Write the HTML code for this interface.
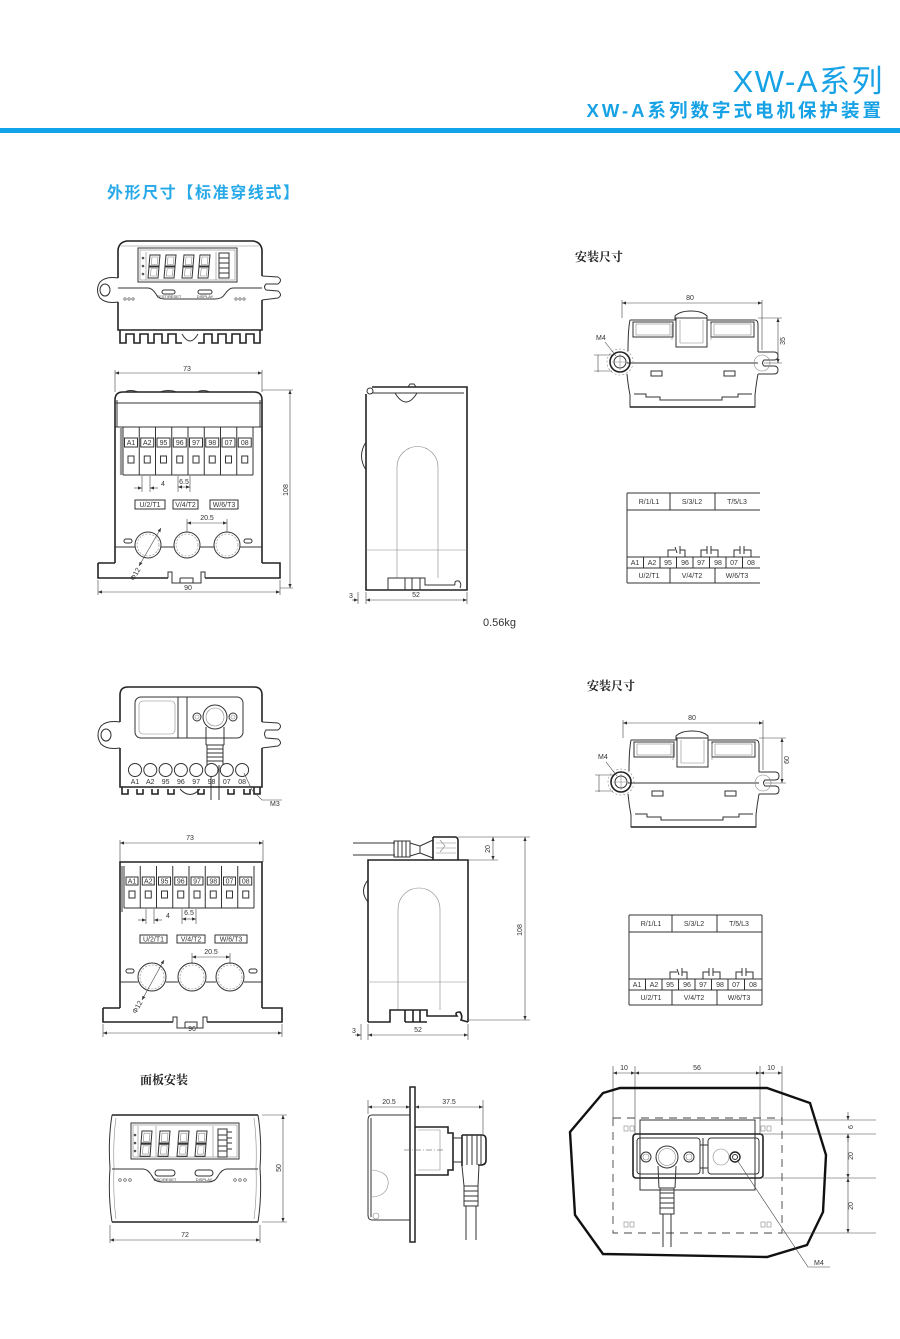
<!DOCTYPE html>
<html><head><meta charset="utf-8">
<style>
html,body{margin:0;padding:0;background:#fff;}
body{width:900px;height:1339px;overflow:hidden;position:relative;}
svg{position:absolute;left:0;top:0;}
.l{stroke:#333;fill:none;stroke-width:1;}
.h{stroke:#222;fill:none;stroke-width:1.6;}
.t{stroke:#888;fill:none;stroke-width:.6;}
.d{stroke:#444;fill:none;stroke-width:.6;}
.s{font-family:"Liberation Sans",sans-serif;font-size:7px;fill:#333;}
.xs{font-family:"Liberation Sans",sans-serif;font-size:4px;fill:#333;}
.cj{font-family:"Liberation Serif","Noto Serif CJK SC",serif;font-weight:bold;font-size:12px;fill:#222;}
</style></head><body>
<svg width="900" height="1339" viewBox="0 0 900 1339" xmlns="http://www.w3.org/2000/svg">
<defs>
<marker id="a" viewBox="0 0 10 10" refX="10" refY="5" markerUnits="userSpaceOnUse" markerWidth="5" markerHeight="4" orient="auto-start-reverse"><path d="M0,1 L10,5 L0,9z" fill="#333"/></marker>
<g id="dig"><path d="M1,0 L11,0 L10,11 L0,11 Z M0,12 L10,12 L9,23 L-1,23 Z" class="l" stroke-width=".8"/><path d="M3,2 L9,2 L8.3,9.5 L2.3,9.5Z M2.2,13.5 L8.2,13.5 L7.4,21 L1.4,21Z" class="t"/></g>
<g id="tv">
<path class="l" d="M630,320 L675,320 L675,316 Q680,311 691,311 Q702,311 707,316 L707,320 L755,320 Q758,320 758,325 L758,352 M758,374 Q756,385 755,395 L755,407 L630,407 L630,395 Q628,385 627,374 M628,351 Q628,330 630,320"/>
<rect class="l" x="633" y="322" width="40" height="15"/><rect class="t" x="636" y="324" width="34" height="11"/>
<rect class="l" x="711" y="322" width="43" height="15"/><rect class="t" x="714" y="324" width="37" height="11"/>
<rect class="l" x="676" y="318" width="31" height="29"/><path class="t" d="M680,320 L680,343 L703,343 L703,320 M672,324 L672,340 M711,324 L711,340"/>
<path class="l" d="M627,363 L758,363"/>
<rect class="l" x="651" y="371" width="11" height="5"/><rect class="l" x="724" y="371" width="11" height="5"/>
<path class="l" d="M634,394 L646,394 L646,397 L660,397 L660,400 L722,400 L722,397 L738,397 L738,394 L752,394"/>
<path class="h" d="M630,407 L755,407"/>
<circle class="h" cx="620" cy="362" r="10"/><circle class="l" cx="620" cy="362" r="6"/><circle class="t" cx="620" cy="362" r="13" stroke-dasharray="2 2"/>
<path class="t" d="M612,362 L628,362 M620,354 L620,370"/>
<path class="l" d="M758,352 L774,352 Q778,352 778,356 Q778,360 774,360 L764,360 Q761,363 764,366 L774,366 Q778,366 778,370 Q778,374 774,374 L758,374"/>
<circle class="t" cx="762" cy="363" r="8"/>
<path class="d" d="M605,342 L616,356"/>
<path class="d" d="M598,355 L598,372 M594,355 L612,355 M594,371 L612,371"/>
<path class="d" d="M622,300 L622,318 M762,300 L762,350"/>
<line class="d" x1="622" y1="303" x2="762" y2="303" marker-start="url(#a)" marker-end="url(#a)"/>
</g>
<g id="wt">
<path class="l" d="M627,493 L760,493 M627,510 L760,510 M627,493 L627,583 M627,557 L760,557 M627,568 L760,568 M627,583 L760,583 M670,493 L670,510 M715,493 L715,510 M670,568 L670,583 M715,568 L715,583"/>
<path class="l" d="M643.5,557 L643.5,568 M660,557 L660,568 M676.5,557 L676.5,568 M693,557 L693,568 M709.5,557 L709.5,568 M726,557 L726,568 M742.5,557 L742.5,568"/>
<path class="l" stroke-width=".8" d="M668,557 L668,550 L675,550 M680,550 L685,550 L685,557 M675,547 L677,553 M680,546 L680,554 M701,557 L701,550 L707,550 M707,546 L707,554 M711,546 L711,554 M711,550 L718,550 L718,557 M734,557 L734,550 L740,550 M740,546 L740,554 M744,546 L744,554 M744,550 L751,550 L751,557"/>
<g class="s" text-anchor="middle" font-size="6"><text x="649" y="504">R/1/L1</text><text x="692" y="504">S/3/L2</text><text x="737" y="504">T/5/L3</text>
<text x="635" y="565">A1</text><text x="652" y="565">A2</text><text x="668" y="565">95</text><text x="685" y="565">96</text><text x="701" y="565">97</text><text x="718" y="565">98</text><text x="734" y="565">07</text><text x="751" y="565">08</text>
<text x="649" y="578">U/2/T1</text><text x="692" y="578">V/4/T2</text><text x="737" y="578">W/6/T3</text></g>
</g>
</defs>

<!-- header -->
<text x="884" y="92" text-anchor="end" font-family="Liberation Sans,Noto Sans CJK SC,sans-serif" font-size="31" fill="#17a2e6" letter-spacing="1.5">XW-A系列</text>
<text x="884" y="117" text-anchor="end" font-family="Liberation Sans,Noto Sans CJK SC,sans-serif" font-size="18.5" font-weight="bold" fill="#17a2e6" letter-spacing="3">XW-A系列数字式电机保护装置</text>
<rect x="0" y="128" width="900" height="5" fill="#12a3ea"/>
<text x="107" y="198" font-family="Liberation Sans,Noto Sans CJK SC,sans-serif" font-size="16" font-weight="bold" fill="#27a9e9" letter-spacing="1.6">外形尺寸【标准穿线式】</text>

<!-- ===== top device 1 ===== -->
<path class="h" d="M118,278 L118,250 Q119,242 127,241 L253,241 Q261,242 262,250 L262,276 M262,300 L262,330 L118,330 L118,302"/>
<path class="t" d="M121,246 L259,246"/>
<path class="l" d="M118,278 Q106,276 100,282 Q95,290 100,298 Q106,304 118,302"/>
<ellipse class="l" cx="105" cy="290" rx="5" ry="6"/>
<path class="l" d="M262,276 L278,277 Q283,280 278,284 L266,284 Q263,287 266,290 L278,291 Q283,295 278,298 L262,300"/>
<rect class="l" x="138" y="248" width="99" height="34"/><rect class="t" x="140" y="250" width="95" height="30"/>
<use href="#dig" transform="translate(149,255)"/><use href="#dig" transform="translate(165,255)"/><use href="#dig" transform="translate(183,255)"/><use href="#dig" transform="translate(199,255)"/>
<path class="t" d="M146,252 L146,280 M216,252 L216,280"/>
<circle cx="143" cy="258" r="1.3" fill="#555"/><circle cx="143" cy="266" r="1.3" fill="#555"/><circle cx="143" cy="274" r="1.3" fill="#555"/>
<path class="l" stroke-width=".7" d="M219,253 L229,253 L229,278 L219,278 Z M219,258 L229,258 M219,263 L229,263 M219,268 L229,268 M219,273 L229,273"/>
<path class="l" d="M118,288 L148,288 Q152,288 156,294 Q158,299 165,299 L215,299 Q222,299 225,294 Q229,288 233,288 L262,288"/>
<rect class="l" x="162" y="290" width="13" height="4" rx="2"/><rect class="l" x="198" y="290" width="14" height="4" rx="2"/>
<text class="xs" x="169" y="298" text-anchor="middle">TEST/RESET</text><text class="xs" x="205" y="298" text-anchor="middle">DISPLAY</text>
<g fill="none" stroke="#444" stroke-width=".6"><circle cx="125" cy="299" r="1.2"/><circle cx="129" cy="299" r="1.2"/><circle cx="133" cy="299" r="1.2"/><circle cx="236" cy="299" r="1.2"/><circle cx="240" cy="299" r="1.2"/><circle cx="244" cy="299" r="1.2"/></g>
<path class="h" d="M120,330 L120,343 L126,343 L126,334 L134,334 L134,343 L140,343 L140,334 L148,334 L148,343 L154,343 L154,334 L162,334 L162,343 L168,343 L168,334 L176,334 L176,343 L182,343 M198,343 L204,343 L204,334 L212,334 L212,343 L218,343 L218,334 L226,334 L226,343 L232,343 L232,334 L240,334 L240,343 L246,343 L246,334 L254,334 L254,343 L260,343 L260,330"/>
<path class="l" d="M182,334 Q190,348 198,334"/>

<!-- ===== front view 1 ===== -->
<path class="d" d="M115,370 L115,392 M262,370 L262,392"/>
<line class="d" x1="115" y1="373" x2="262" y2="373" marker-start="url(#a)" marker-end="url(#a)"/>
<text class="s" x="187" y="371" text-anchor="middle">73</text>
<path class="h" d="M115,563 L115,400 Q115,392 123,392 L254,392 Q262,392 262,400 L262,563"/>
<path class="l" d="M125,392 Q130,389 138,392 M160,392 Q168,389 177,392 M197,392 Q203,389 210,392"/>
<path class="l" d="M115,403 L262,403 M117,400 L117,427 M260,400 L260,427"/>
<path class="l" d="M115,427 L262,427"/>
<path stroke="#999" stroke-width="2.2" d="M121,428 L121,475"/>
<g class="l" stroke-width=".8">
<path d="M123,427 L123,475 M139.25,427 L139.25,475 M155.5,427 L155.5,475 M171.75,427 L171.75,475 M188,427 L188,475 M204.25,427 L204.25,475 M220.5,427 L220.5,475 M236.75,427 L236.75,475 M253,427 L253,475 M123,475 L253,475"/>
<rect x="124.5" y="438" width="13" height="9"/><rect x="140.75" y="438" width="13" height="9"/><rect x="157" y="438" width="13" height="9"/><rect x="173.25" y="438" width="13" height="9"/><rect x="189.5" y="438" width="13" height="9"/><rect x="205.75" y="438" width="13" height="9"/><rect x="222" y="438" width="13" height="9"/><rect x="238.25" y="438" width="13" height="9"/>
<rect x="128" y="456" width="6" height="7"/><rect x="144.25" y="456" width="6" height="7"/><rect x="160.5" y="456" width="6" height="7"/><rect x="176.75" y="456" width="6" height="7"/><rect x="193" y="456" width="6" height="7"/><rect x="209.25" y="456" width="6" height="7"/><rect x="225.5" y="456" width="6" height="7"/><rect x="241.75" y="456" width="6" height="7"/>
</g>
<g class="s" text-anchor="middle" font-size="6"><text x="131" y="445">A1</text><text x="147.25" y="445">A2</text><text x="163.5" y="445">95</text><text x="179.75" y="445">96</text><text x="196" y="445">97</text><text x="212.25" y="445">98</text><text x="228.5" y="445">07</text><text x="244.75" y="445">08</text></g>
<path class="d" d="M142,476 L142,492 M150,476 L150,492 M178,476 L178,492 M190,476 L190,492"/>
<line class="d" x1="134" y1="488" x2="142" y2="488" marker-end="url(#a)"/><line class="d" x1="158" y1="488" x2="150" y2="488" marker-end="url(#a)"/>
<text class="s" x="161" y="486">4</text>
<line class="d" x1="178" y1="487" x2="190" y2="487" marker-start="url(#a)" marker-end="url(#a)"/>
<text class="s" x="184" y="484" text-anchor="middle">6.5</text>
<g class="l" stroke-width=".8"><rect x="135" y="500" width="30" height="9"/><rect x="173" y="500" width="25" height="9"/><rect x="210" y="500" width="28" height="9"/></g>
<g class="s" text-anchor="middle" font-size="6"><text x="150" y="507">U/2/T1</text><text x="185.5" y="507">V/4/T2</text><text x="224" y="507">W/6/T3</text></g>
<path class="d" d="M187,519 L187,532 M227,519 L227,532"/>
<line class="d" x1="187" y1="523" x2="227" y2="523" marker-start="url(#a)" marker-end="url(#a)"/>
<text class="s" x="207" y="520" text-anchor="middle">20.5</text>
<path class="l" d="M115,547 L135,547 M161,547 L174,547 M200,547 L214,547 M240,547 L262,547"/>
<circle class="l" cx="148" cy="545" r="13"/><circle class="t" cx="148" cy="545" r="11" stroke-dasharray="2 1.5"/>
<circle class="l" cx="187" cy="545" r="13"/><circle class="t" cx="187" cy="545" r="11" stroke-dasharray="2 1.5"/>
<circle class="l" cx="227" cy="545" r="13"/><circle class="t" cx="227" cy="545" r="11" stroke-dasharray="2 1.5"/>
<rect class="l" x="124" y="539" width="8" height="4" rx="2"/><rect class="l" x="244" y="539" width="8" height="4" rx="2"/>
<line class="d" x1="139" y1="566" x2="161" y2="528" marker-start="url(#a)" marker-end="url(#a)"/>
<text class="s" x="0" y="0" transform="translate(134,581) rotate(-60)">Φ12</text>
<path class="h" d="M98,563 L115,563 M262,563 L280,563 L280,578 L205,578 M168,578 L98,578 L98,563"/>
<path class="l" d="M168,578 L168,572 L172,572 L172,583 L201,583 L201,572 L205,572 L205,578 M180,578 L193,578 L193,583 M180,578 L180,583"/>
<path class="d" d="M98,580 L98,595 M280,580 L280,595"/>
<line class="d" x1="98" y1="592" x2="280" y2="592" marker-start="url(#a)" marker-end="url(#a)"/>
<text class="s" x="188" y="590" text-anchor="middle">90</text>
<path class="d" d="M262,390 L293,390 M280,588 L293,588"/>
<line class="d" x1="290" y1="390" x2="290" y2="588" marker-start="url(#a)" marker-end="url(#a)"/>
<text class="s" transform="translate(288,490) rotate(-90)" text-anchor="middle">108</text>

<!-- ===== side view 1 ===== -->
<path class="h" d="M372,387 L467,387 L467,590 L366,590 L366,394"/>
<circle class="l" cx="370" cy="391" r="3"/>
<path class="l" d="M372,393 L464,393 M408,387 L410,384 L414,384 L416,387"/>
<path class="l" d="M395,393 Q406,411 417,393"/>
<path class="l" d="M366,442 Q357,456 366,470"/>
<path class="t" stroke="#777" d="M397,578 L397,467 A20.5,20.5 0 0 1 438,467 L438,578"/>
<path class="t" stroke="#777" d="M366,550 L467,550"/>
<path class="l" fill="#fff" d="M388,590 L388,578 L405,578 L405,590 M405,578 L425,578 L425,585 L455,585 M412,578 L412,590 M420,578 L420,590 M455,585 Q454,580 459,581 Q462,584 460,588"/>
<path class="d" d="M358,592 L358,604 M366,592 L366,604 M467,592 L467,604"/>
<line class="d" x1="352" y1="600" x2="358" y2="600" marker-end="url(#a)"/>
<line class="d" x1="366" y1="600" x2="467" y2="600" marker-start="url(#a)" marker-end="url(#a)"/>
<text class="s" x="349" y="598">3</text><text class="s" x="416" y="597" text-anchor="middle">52</text>
<text x="483" y="626" font-family="Liberation Sans,sans-serif" font-size="11" fill="#333">0.56kg</text>

<!-- ===== right top ===== -->
<text class="cj" x="575" y="261">安装尺寸</text>
<use href="#tv"/>
<text class="s" x="690" y="300" text-anchor="middle">80</text>
<text class="s" x="596" y="340" font-size="6">M4</text>
<path class="d" d="M758,318 L782,318 M764,363 L782,363"/>
<line class="d" x1="778" y1="318" x2="778" y2="363" marker-start="url(#a)" marker-end="url(#a)"/>
<text class="s" transform="translate(785,341) rotate(-90)" text-anchor="middle">35</text>
<use href="#wt"/>

<!-- ===== top device 2 ===== -->
<path class="h" d="M120,722 L120,695 Q120,687 128,687 L254,687 Q262,687 262,695 L262,722 M262,748 L262,787 L120,787 L120,748"/>
<path class="l" d="M120,722 Q107,720 101,726 Q95,735 101,744 Q107,750 120,748"/>
<ellipse class="l" cx="106" cy="735" rx="5" ry="6"/>
<path class="l" d="M262,722 L278,723 Q283,726 278,730 L266,730 Q263,734 266,738 L278,739 Q283,743 278,746 L262,748"/>
<rect class="l" x="135" y="697" width="108" height="41" rx="6"/>
<rect class="t" x="139" y="701" width="36" height="33" rx="4"/>
<path class="l" d="M178,697 L178,738 M187,697 L187,738"/>
<circle class="l" cx="215" cy="717" r="12"/><circle class="t" cx="215" cy="717" r="9"/>
<circle class="l" cx="197" cy="717" r="4"/><circle class="t" cx="197" cy="717" r="2"/>
<circle class="l" cx="233" cy="717" r="4"/><circle class="t" cx="233" cy="717" r="2"/>
<path class="l" d="M206,727 L206,745 M224,727 L224,745"/>
<path class="l" d="M206,745 L224,745 M207,749 L223,749 M207,753 L223,753 M207,757 L223,757 M207,761 L223,761 M207,745 L207,765 M223,745 L223,765"/>
<path class="l" d="M211,765 L211,800 M219,765 L219,800"/>
<g class="l">
<circle cx="135" cy="770" r="6.5"/><circle cx="150.3" cy="770" r="6.5"/><circle cx="165.6" cy="770" r="6.5"/><circle cx="180.9" cy="770" r="6.5"/><circle cx="196.2" cy="770" r="6.5"/><circle cx="211.5" cy="770" r="6.5" fill="#fff"/><circle cx="226.8" cy="770" r="6.5"/><circle cx="242.1" cy="770" r="6.5"/></g>
<g class="s" text-anchor="middle"><text x="135" y="784">A1</text><text x="150.3" y="784">A2</text><text x="165.6" y="784">95</text><text x="180.9" y="784">96</text><text x="196.2" y="784">97</text><text x="211.5" y="784">98</text><text x="226.8" y="784">07</text><text x="242.1" y="784">08</text></g>
<path class="h" d="M122,787 L122,794 L128,794 L128,789 M137,789 L137,794 L143,794 L143,789 M152,789 L152,794 L158,794 L158,789 M168,789 L168,794 L174,794 L174,789 M198,789 L198,794 L204,794 L204,789 M228,789 L228,794 L234,794 L234,789 M244,789 L244,794 L250,794 L250,789 M254,787 L254,794 L260,794 L260,787"/>
<path class="l" d="M180,789 Q190,800 200,789"/>
<path class="d" d="M244,773 L252,790 L262,800 L282,800"/>
<text class="s" x="270" y="806" font-size="6">M3</text>

<!-- ===== front view 2 ===== -->
<path class="d" d="M120,840 L120,862 M263,840 L263,862"/>
<line class="d" x1="120" y1="843" x2="263" y2="843" marker-start="url(#a)" marker-end="url(#a)"/>
<text class="s" x="190" y="840" text-anchor="middle">73</text>
<path class="h" d="M120,1008 L120,862 L262,862 L262,1008"/>
<path stroke="#999" stroke-width="2" d="M122,866 L122,912"/>
<g class="l" stroke-width=".8">
<path d="M124,866 L124,908 M140.25,866 L140.25,908 M156.5,866 L156.5,908 M172.75,866 L172.75,908 M189,866 L189,908 M205.25,866 L205.25,908 M221.5,866 L221.5,908 M237.75,866 L237.75,908 M254,866 L254,908 M124,908 L254,908"/>
<rect x="126" y="877" width="12" height="8"/><rect x="142.25" y="877" width="12" height="8"/><rect x="158.5" y="877" width="12" height="8"/><rect x="174.75" y="877" width="12" height="8"/><rect x="191" y="877" width="12" height="8"/><rect x="207.25" y="877" width="12" height="8"/><rect x="223.5" y="877" width="12" height="8"/><rect x="239.75" y="877" width="12" height="8"/>
<rect x="129" y="891" width="6" height="7"/><rect x="145.25" y="891" width="6" height="7"/><rect x="161.5" y="891" width="6" height="7"/><rect x="177.75" y="891" width="6" height="7"/><rect x="194" y="891" width="6" height="7"/><rect x="210.25" y="891" width="6" height="7"/><rect x="226.5" y="891" width="6" height="7"/><rect x="242.75" y="891" width="6" height="7"/>
</g>
<g class="s" text-anchor="middle" font-size="6"><text x="132" y="883.5">A1</text><text x="148.25" y="883.5">A2</text><text x="164.5" y="883.5">95</text><text x="180.75" y="883.5">96</text><text x="197" y="883.5">97</text><text x="213.25" y="883.5">98</text><text x="229.5" y="883.5">07</text><text x="245.75" y="883.5">08</text></g>
<path class="d" d="M146,909 L146,924 M154,909 L154,924 M182,909 L182,924 M196,909 L196,924"/>
<line class="d" x1="138" y1="920" x2="146" y2="920" marker-end="url(#a)"/><line class="d" x1="162" y1="920" x2="154" y2="920" marker-end="url(#a)"/>
<text class="s" x="166" y="918">4</text>
<line class="d" x1="182" y1="919" x2="196" y2="919" marker-start="url(#a)" marker-end="url(#a)"/>
<text class="s" x="189" y="915" text-anchor="middle">6.5</text>
<g class="l" stroke-width=".8"><rect x="140" y="935" width="27" height="8"/><rect x="177" y="935" width="28" height="8"/><rect x="215" y="935" width="32" height="8"/></g>
<g class="s" text-anchor="middle" font-size="6"><text x="153.5" y="941.5">U/2/T1</text><text x="191" y="941.5">V/4/T2</text><text x="231" y="941.5">W/6/T3</text></g>
<path class="d" d="M192,953 L192,964 M230,953 L230,964"/>
<line class="d" x1="192" y1="957" x2="230" y2="957" marker-start="url(#a)" marker-end="url(#a)"/>
<text class="s" x="211" y="954" text-anchor="middle">20.5</text>
<path class="l" d="M120,982 L138,982 M166,982 L178,982 M206,982 L216,982 M244,982 L262,982"/>
<circle class="l" cx="152" cy="977" r="14"/><circle class="t" cx="152" cy="977" r="12" stroke-dasharray="2 1.5"/>
<circle class="l" cx="192" cy="977" r="14"/><circle class="t" cx="192" cy="977" r="12" stroke-dasharray="2 1.5"/>
<circle class="l" cx="230" cy="977" r="14"/><circle class="t" cx="230" cy="977" r="12" stroke-dasharray="2 1.5"/>
<rect class="l" x="126" y="969" width="8" height="4" rx="2"/><rect class="l" x="249" y="969" width="8" height="4" rx="2"/>
<line class="d" x1="142" y1="1000" x2="164" y2="960" marker-start="url(#a)" marker-end="url(#a)"/>
<text class="s" transform="translate(136,1014) rotate(-60)">Φ12</text>
<path class="h" d="M103,1008 L120,1008 M262,1008 L282,1008 L282,1022 L207,1022 M173,1022 L103,1022 L103,1008"/>
<path class="l" d="M173,1022 L173,1017 L177,1017 L177,1028 L203,1028 L203,1017 L207,1017 L207,1022 M185,1022 L197,1022 L197,1028 M185,1022 L185,1028"/>
<path class="d" d="M103,1024 L103,1037 M282,1024 L282,1037"/>
<line class="d" x1="103" y1="1033" x2="282" y2="1033" marker-start="url(#a)" marker-end="url(#a)"/>
<text class="s" x="192" y="1031" text-anchor="middle">96</text>

<!-- ===== side view 2 ===== -->
<path class="l" d="M353,843 L395,843 M353,855 L395,855"/>
<path class="l" d="M394,841 L410,841 L410,857 L394,857 Z M398,841 L398,857 M402,841 L402,857 M406,841 L406,857 M410,843 L420,846 L420,853 L410,856 M420,846 L433,840 M420,853 L433,858"/>
<path class="h" d="M433,837 L455,837 Q458,837 458,841 L458,860 M433,837 L433,860"/>
<path class="t" stroke="#555" d="M436,843 L456,843 M436,848 L456,848 M436,853 L456,853 M440,840 L445,846 L440,852"/>
<path class="h" d="M368,1022 L368,860 L468,860 L468,1022"/>
<path class="l" d="M368,880 Q359,891 368,902"/>
<path class="t" stroke="#777" d="M398,1010 L398,909 A21,21 0 0 1 440,909 L440,1010"/>
<path class="t" stroke="#777" d="M368,982 L468,982"/>
<path class="h" d="M368,1022 L390,1022 L390,1010 L405,1010 L405,1022 M405,1010 L427,1010 L427,1016 L457,1016 Q454,1012 460,1012 Q463,1016 461,1020 L468,1022 M427,1022 L405,1022 M413,1010 L413,1022 M420,1010 L420,1022"/>
<path class="d" d="M458,837 L530,837 M468,860 L498,860 M468,1020 L530,1020"/>
<line class="d" x1="493" y1="837" x2="493" y2="860" marker-start="url(#a)" marker-end="url(#a)"/>
<text class="s" transform="translate(490,849) rotate(-90)" text-anchor="middle">20</text>
<line class="d" x1="525" y1="837" x2="525" y2="1020" marker-start="url(#a)" marker-end="url(#a)"/>
<text class="s" transform="translate(522,930) rotate(-90)" text-anchor="middle">108</text>
<path class="d" d="M361,1024 L361,1040 M368,1024 L368,1040 M468,1024 L468,1040"/>
<line class="d" x1="355" y1="1035" x2="361" y2="1035" marker-end="url(#a)"/>
<line class="d" x1="368" y1="1035" x2="468" y2="1035" marker-start="url(#a)" marker-end="url(#a)"/>
<text class="s" x="352" y="1033">3</text><text class="s" x="418" y="1032" text-anchor="middle">52</text>

<!-- ===== right middle ===== -->
<text class="cj" x="587" y="690">安装尺寸</text>
<use href="#tv" transform="translate(1,420)"/>
<text class="s" x="692" y="720" text-anchor="middle">80</text>
<text class="s" x="598" y="759" font-size="6">M4</text>
<path class="d" d="M759,738 L786,738 M765,783 L786,783"/>
<line class="d" x1="782" y1="738" x2="782" y2="783" marker-start="url(#a)" marker-end="url(#a)"/>
<text class="s" transform="translate(789,760) rotate(-90)" text-anchor="middle">60</text>
<use href="#wt" transform="translate(2,422)"/>
<path class="l" d="M762,915 L762,1005"/>

<!-- ===== bottom left panel ===== -->
<text class="cj" x="140" y="1084">面板安装</text>
<path class="h" d="M112,1115 L258,1115 M112,1222 L258,1222"/>
<path class="l" d="M112,1115 Q108,1140 110,1168 Q108,1196 112,1222 M258,1115 Q262,1140 260,1168 Q262,1196 258,1222"/>
<path class="t" stroke="#666" d="M116,1118 Q113,1140 114,1168 Q113,1196 116,1219 M254,1118 Q257,1140 256,1168 Q257,1196 254,1219"/>
<rect class="l" x="131" y="1123" width="108" height="36"/><rect class="t" x="133" y="1125" width="104" height="32"/>
<use href="#dig" transform="translate(141,1131) scale(1,1.1)"/><use href="#dig" transform="translate(159,1131) scale(1,1.1)"/><use href="#dig" transform="translate(178,1131) scale(1,1.1)"/><use href="#dig" transform="translate(196,1131) scale(1,1.1)"/>
<path class="t" d="M138,1126 L138,1157 M156,1126 L156,1157 M213,1126 L213,1157"/>
<circle cx="135" cy="1135" r="1.3" fill="#555"/><circle cx="135" cy="1143" r="1.3" fill="#555"/><circle cx="135" cy="1151" r="1.3" fill="#555"/>
<path class="l" stroke-width=".7" d="M218,1129 L227,1129 L227,1157 L218,1157 Z M218,1135 L227,1135 M218,1140 L227,1140 M218,1146 L227,1146 M218,1151 L227,1151 M227,1132 L232,1132 M227,1138 L232,1138 M227,1143 L232,1143 M227,1149 L232,1149"/>
<path class="l" d="M112,1169 L143,1169 Q148,1169 152,1176 Q155,1182 162,1182 L208,1182 Q215,1182 218,1176 Q222,1169 227,1169 L258,1169"/>
<rect class="l" x="155" y="1170" width="20" height="6" rx="3"/><rect class="l" x="195" y="1170" width="18" height="6" rx="3"/>
<text class="xs" x="165" y="1181" text-anchor="middle">ESC/RESET</text><text class="xs" x="204" y="1181" text-anchor="middle">DISPLAY</text>
<g fill="none" stroke="#444" stroke-width=".6"><circle cx="120" cy="1180" r="1.3"/><circle cx="125" cy="1180" r="1.3"/><circle cx="130" cy="1180" r="1.3"/><circle cx="235" cy="1180" r="1.3"/><circle cx="240" cy="1180" r="1.3"/><circle cx="245" cy="1180" r="1.3"/></g>
<path class="d" d="M262,1115 L287,1115 M262,1222 L287,1222 M110,1225 L110,1243 M260,1225 L260,1243"/>
<line class="d" x1="283" y1="1115" x2="283" y2="1222" marker-start="url(#a)" marker-end="url(#a)"/>
<text class="s" transform="translate(281,1168) rotate(-90)" text-anchor="middle">50</text>
<line class="d" x1="110" y1="1240" x2="260" y2="1240" marker-start="url(#a)" marker-end="url(#a)"/>
<text class="s" x="185" y="1237" text-anchor="middle">72</text>

<!-- ===== bottom middle ===== -->
<rect x="410" y="1087" width="5" height="155" fill="#fff" stroke="#222" stroke-width="1.5"/>
<path class="l" d="M410,1115 L372,1115 Q368,1115 368,1120 L368,1215 Q368,1220 372,1220 L410,1220 M371,1118 L371,1217"/>
<path class="t" stroke="#666" d="M372,1170 Q390,1172 388,1185 Q386,1196 372,1197"/>
<circle class="t" cx="376" cy="1216" r="3"/>
<path class="h" d="M415,1127 L448,1127 L448,1133 L453,1133 L453,1170 L448,1170 L448,1175 L415,1175"/>
<path class="t" stroke="#666" d="M418,1130 L440,1130 L440,1170 L418,1170"/>
<path class="d" stroke-dasharray="6 2 1 2" d="M404,1150 L445,1150"/>
<path class="l" d="M453,1138 L462,1138 L462,1162 L453,1162"/>
<path class="h" d="M462,1135 L482,1135 Q486,1135 486,1140 L486,1160 Q486,1165 481,1165 L478,1165 M462,1135 L462,1166"/>
<path class="l" d="M467,1135 L467,1165 M472,1135 L472,1165 M477,1135 L477,1165 M481,1135 L481,1165"/>
<path class="l" d="M462,1166 L464,1186 M479,1165 L478,1186 M464,1186 L478,1186 M464,1191 L478,1191 M464,1196 L478,1196 M464,1201 L478,1201 M464,1186 L464,1206 L478,1206 L478,1186 M466,1206 L466,1240 M476,1206 L476,1240"/>
<path class="d" d="M368,1100 L368,1114 M483,1100 L483,1134"/>
<line class="d" x1="368" y1="1107" x2="410" y2="1107" marker-start="url(#a)" marker-end="url(#a)"/>
<line class="d" x1="415" y1="1107" x2="483" y2="1107" marker-start="url(#a)" marker-end="url(#a)"/>
<text class="s" x="389" y="1104" text-anchor="middle">20.5</text><text class="s" x="449" y="1104" text-anchor="middle">37.5</text>

<!-- ===== bottom right ===== -->
<path class="d" d="M613,1066 L613,1118 M635,1066 L635,1135 M760,1066 L760,1135 M782,1066 L782,1118"/>
<line class="d" x1="613" y1="1073" x2="635" y2="1073" marker-start="url(#a)" marker-end="url(#a)"/>
<line class="d" x1="635" y1="1073" x2="760" y2="1073" marker-start="url(#a)" marker-end="url(#a)"/>
<line class="d" x1="760" y1="1073" x2="782" y2="1073" marker-start="url(#a)" marker-end="url(#a)"/>
<text class="s" x="624" y="1070" text-anchor="middle">10</text><text class="s" x="697" y="1070" text-anchor="middle">56</text><text class="s" x="771" y="1070" text-anchor="middle">10</text>
<path fill="none" stroke="#111" stroke-width="2.4" d="M620,1088 L767,1088 L810,1103 L826,1155 L823,1212 L807,1245 L767,1257 L603,1254 L575,1215 L570,1132 L603,1093 Z"/>
<rect x="613" y="1118" width="169" height="115" fill="none" stroke="#444" stroke-width=".9" stroke-dasharray="8 6"/>
<g class="t" stroke="#555"><rect x="624" y="1126" width="4" height="5"/><rect x="630" y="1126" width="4" height="5"/><rect x="761" y="1126" width="4" height="5"/><rect x="767" y="1126" width="4" height="5"/><rect x="624" y="1222" width="4" height="5"/><rect x="630" y="1222" width="4" height="5"/><rect x="761" y="1222" width="4" height="5"/><rect x="767" y="1222" width="4" height="5"/></g>
<rect class="l" x="640" y="1120" width="115" height="70"/>
<rect class="h" x="633" y="1134" width="130" height="44" rx="3"/>
<rect class="l" x="637" y="1138" width="63" height="36" rx="3"/><rect class="l" x="708" y="1138" width="51" height="36" rx="3"/>
<path class="l" d="M700,1145 L708,1145 M700,1168 L708,1168 M703,1138 L703,1174"/>
<circle class="l" cx="667" cy="1157" r="11"/><circle class="t" stroke="#555" cx="667" cy="1157" r="8.5"/>
<circle class="l" cx="646" cy="1157" r="5"/><circle class="t" stroke="#555" cx="646" cy="1157" r="3"/>
<circle class="l" cx="689" cy="1157" r="5"/><circle class="t" stroke="#555" cx="689" cy="1157" r="3"/>
<circle class="t" stroke="#666" cx="721" cy="1157" r="8"/>
<circle fill="none" stroke="#222" stroke-width="1.4" cx="735" cy="1157" r="5"/><circle class="l" cx="735" cy="1157" r="2.5"/>
<path class="l" d="M658,1166 L659,1188 M676,1166 L675,1188 M660,1188 L674,1188 L674,1214 L660,1214 Z M660,1193 L674,1193 M660,1198 L674,1198 M660,1203 L674,1203 M660,1208 L674,1208 M663,1214 L663,1247 M671,1214 L671,1247"/>
<path class="d" d="M760,1120 L876,1120 M760,1134 L876,1134 M763,1178 L876,1178 M782,1233 L876,1233"/>
<line class="d" x1="848" y1="1112" x2="848" y2="1120" marker-end="url(#a)"/>
<line class="d" x1="848" y1="1142" x2="848" y2="1134" marker-end="url(#a)"/>
<line class="d" x1="848" y1="1134" x2="848" y2="1178" marker-start="url(#a)" marker-end="url(#a)"/>
<line class="d" x1="848" y1="1178" x2="848" y2="1233" marker-start="url(#a)" marker-end="url(#a)"/>
<text class="s" transform="translate(853,1127) rotate(-90)" text-anchor="middle">6</text>
<text class="s" transform="translate(853,1156) rotate(-90)" text-anchor="middle">20</text>
<text class="s" transform="translate(853,1206) rotate(-90)" text-anchor="middle">20</text>
<path class="d" d="M737,1160 L808,1267 L830,1267"/>
<text class="s" x="814" y="1265" font-size="6">M4</text>
</svg>
</body></html>
